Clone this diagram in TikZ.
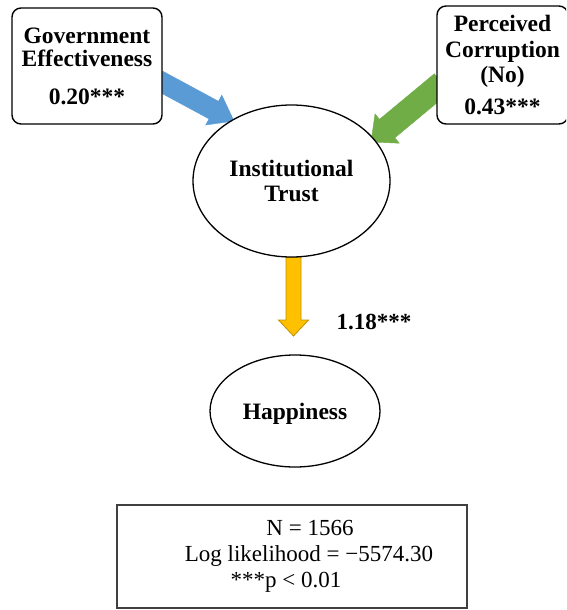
\documentclass[tikz,border=0pt]{standalone}
\usepackage{fontspec}
\setmainfont{Liberation Serif}
\usetikzlibrary{calc,shapes.geometric}

\definecolor{effblue}{HTML}{5B9BD5}
\definecolor{corgreen}{HTML}{70AD47}
\definecolor{trustgold}{HTML}{FFC000}
\definecolor{trustgoldline}{HTML}{BF9000}

% Block arrow from #2 to #3: #4 half shaft width, #5 half head width, #6 head length
\newcommand{\blockarrow}[6]{%
  \path (#2) coordinate (ba-s) (#3) coordinate (ba-e);
  \path ($(ba-e)!#6!(ba-s)$) coordinate (ba-h);
  \filldraw[#1] ($(ba-s)!#4!90:(ba-e)$) -- ($(ba-h)!#4!-90:(ba-s)$)
    -- ($(ba-h)!#5!-90:(ba-s)$) -- (ba-e) -- ($(ba-h)!#5!90:(ba-s)$)
    -- ($(ba-h)!#4!90:(ba-s)$) -- ($(ba-s)!#4!-90:(ba-e)$) -- cycle;
}

\begin{document}
\begin{tikzpicture}[x=1pt,y=1pt,
  lbl/.style={font=\fontsize{23.5}{23}\selectfont\bfseries, align=center},
  rbox/.style={draw=black, line width=1.4pt, rounded corners=9pt, fill=white, inner sep=0pt},
  oval/.style={ellipse, draw=black, line width=1.3pt, fill=white, inner sep=0pt},
  stattxt/.style={font=\fontsize{23}{25}\selectfont, inner sep=0pt},
]
\clip (0,0) rectangle (566,-610);

% arrow end points
\coordinate (gov-tail) at (158,-80);
\coordinate (gov-tip) at (234,-121);
\coordinate (cor-tail) at (442,-83);
\coordinate (cor-tip) at (371,-142);
\coordinate (trust-out) at (293.5,-257);
\coordinate (happy-in) at (293.5,-336);

% block arrows
\blockarrow{fill=effblue, draw=effblue, line width=0.4pt}{gov-tail}{gov-tip}{10pt}{17pt}{23pt}
\blockarrow{fill=corgreen, draw=corgreen, line width=0.4pt}{cor-tail}{cor-tip}{12pt}{19pt}{21pt}
\blockarrow{fill=trustgold, draw=trustgoldline, line width=0.8pt}{trust-out}{happy-in}{7.5pt}{15pt}{16pt}

% predictor boxes
\node[rbox, lbl, minimum width=150pt, minimum height=116pt] (gov) at (87,-66)
  {Government\\Effectiveness\\[15pt]0.20***};
\node[rbox, lbl, font=\fontsize{23.5}{25.5}\selectfont\bfseries,
      minimum width=131pt, minimum height=118pt] (cor) at (502.5,-65)
  {Perceived\\Corruption\\(No)\\[6pt]0.43***};

% constructs
\node[oval, lbl, font=\fontsize{23.5}{25}\selectfont\bfseries,
      minimum width=197pt, minimum height=152pt] (trust) at (291.5,-181)
  {Institutional\\Trust};
\node[oval, lbl, text depth=0pt, minimum width=170pt, minimum height=112pt] (happy) at (295,-411)
  {Happiness};

% path coefficient
\node[lbl, font=\fontsize{23}{25}\selectfont\bfseries] (coef) at (374,-322) {1.18***};

% model statistics
\node[draw=black!75, line width=1.2pt, minimum width=350pt, minimum height=103pt] (stats) at (292,-556.5) {};
\node[stattxt] (nobs) at (310,-528) {N = 1566};
\node[stattxt] (loglik) at (309,-556) {Log likelihood = −5574.30};
\node[stattxt] (sig) at (286,-582) {***p < 0.01};
\end{tikzpicture}
\end{document}
